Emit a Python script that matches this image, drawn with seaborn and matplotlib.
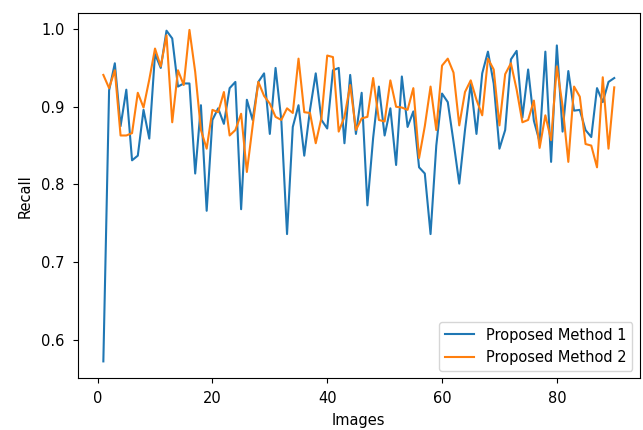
import numpy as np
import pandas as pd
import matplotlib
matplotlib.use("Agg")
import matplotlib.pyplot as plt
import seaborn as sns

images = list(range(1, 91))

method1 = [
    0.572, 0.921, 0.956, 0.875, 0.922, 0.831, 0.837, 0.896, 0.859, 0.968,
    0.950, 0.998, 0.988, 0.926, 0.930, 0.930, 0.814, 0.902, 0.766, 0.883,
    0.898, 0.878, 0.924, 0.932, 0.768, 0.909, 0.883, 0.932, 0.943, 0.865,
    0.950, 0.883, 0.736, 0.874, 0.902, 0.837, 0.896, 0.943, 0.883, 0.872,
    0.947, 0.950, 0.853, 0.941, 0.865, 0.918, 0.773, 0.860, 0.926, 0.863,
    0.898, 0.825, 0.939, 0.874, 0.894, 0.822, 0.814, 0.736, 0.850, 0.917,
    0.906, 0.855, 0.801, 0.870, 0.930, 0.865, 0.943, 0.971, 0.930, 0.846,
    0.870, 0.961, 0.972, 0.886, 0.948, 0.882, 0.855, 0.971, 0.829, 0.979,
    0.868, 0.946, 0.895, 0.896, 0.870, 0.861, 0.924, 0.906, 0.932, 0.937,
]

method2 = [
    0.941, 0.924, 0.947, 0.863, 0.863, 0.866, 0.918, 0.899, 0.935, 0.975,
    0.952, 0.992, 0.880, 0.947, 0.928, 0.999, 0.945, 0.870, 0.846, 0.896,
    0.893, 0.919, 0.863, 0.870, 0.891, 0.816, 0.875, 0.932, 0.914, 0.904,
    0.887, 0.883, 0.898, 0.892, 0.962, 0.893, 0.892, 0.853, 0.886, 0.966,
    0.964, 0.868, 0.887, 0.928, 0.870, 0.885, 0.887, 0.937, 0.883, 0.881,
    0.934, 0.900, 0.899, 0.896, 0.924, 0.834, 0.875, 0.926, 0.870, 0.953,
    0.962, 0.944, 0.876, 0.919, 0.934, 0.909, 0.889, 0.962, 0.948, 0.876,
    0.942, 0.956, 0.922, 0.880, 0.883, 0.908, 0.847, 0.889, 0.857, 0.952,
    0.901, 0.829, 0.926, 0.913, 0.852, 0.850, 0.822, 0.938, 0.846, 0.925,
]

series_names = ["Proposed Method 1", "Proposed Method 2"]

df = pd.DataFrame({
    "Images": images * 2,
    "Recall": method1 + method2,
    "Method": [series_names[0]] * len(images) + [series_names[1]] * len(images),
})

plt.rcParams["font.family"] = ["DejaVu Sans"]
fig = plt.figure(figsize=(6.43, 4.30), dpi=100)
ax = fig.add_axes([0.121, 0.121, 0.874, 0.848])

sns.lineplot(data=df, x="Images", y="Recall", hue="Method",
             palette=["#1f77b4", "#ff7f0e"], linewidth=1.5, ax=ax)

ax.set_xlabel("Images", fontsize=10.5, labelpad=5)
ax.set_ylabel("Recall", fontsize=10.5, labelpad=6)
ax.tick_params(labelsize=10.5, pad=6)
handles, labels = ax.get_legend_handles_labels()
ax.legend(handles, labels, loc="lower right", fontsize=10.5)

fig.savefig("out.png", dpi=100)
